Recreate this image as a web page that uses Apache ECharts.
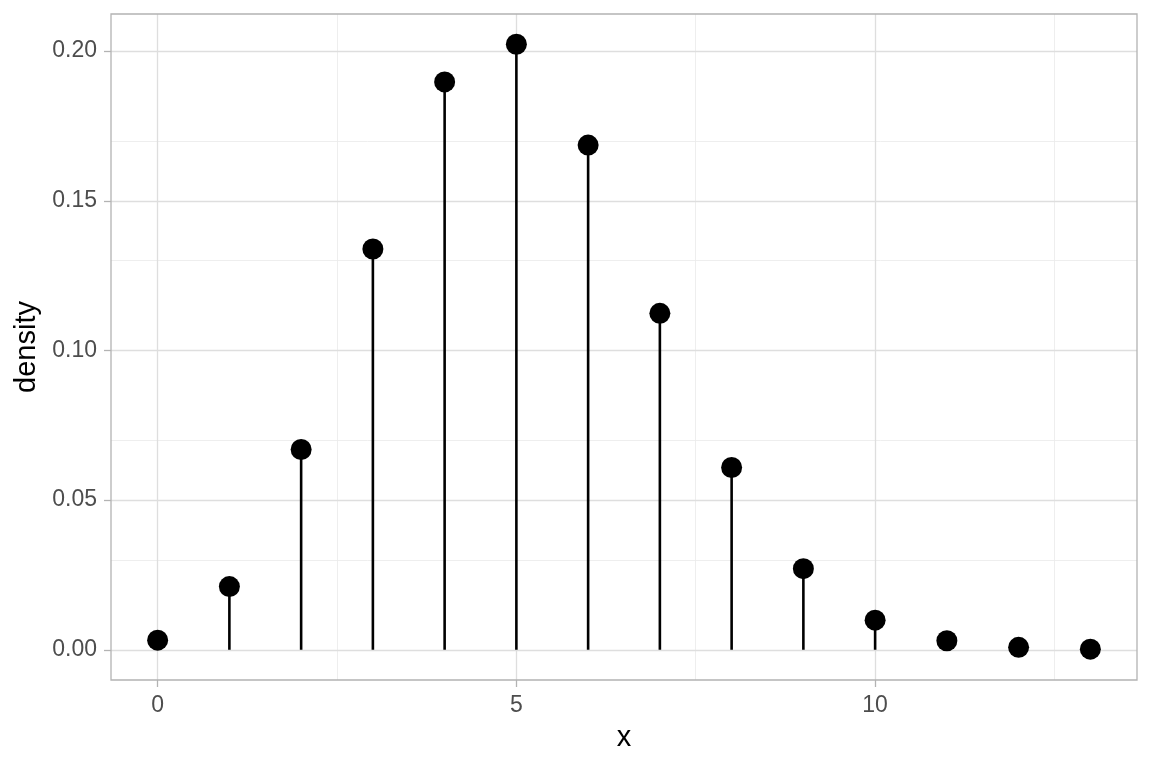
<!DOCTYPE html>
<html>
<head>
<meta charset="utf-8">
<script src="https://cdn.jsdelivr.net/npm/echarts@6/dist/echarts.min.js"></script>
<style>html,body{margin:0;padding:0;background:#fff}#chart{width:1152px;height:768px}</style>
</head>
<body>
<div id="chart"></div>
<script>
const xValues = [0,1,2,3,4,5,6,7,8,9,10,11,12,13];
const density = [0.0032,0.0211,0.0669,0.1339,0.1897,0.2023,0.1686,0.1124,0.0609,0.0271,0.0099,0.0030,0.0008,0.0002];
const xTicks = [0,5,10];
const yTicks = [0,0.05,0.10,0.15,0.20];
const xMinor = [2.5,7.5,12.5];
const yMinor = [0.025,0.075,0.125,0.175];

const font = 'Liberation Sans, Arial, sans-serif';
const pts = xValues.map((x,i)=>[x,density[i]]);

const major = {color:'#DEDEDE',width:1.3,type:'solid'};
const minor = {color:'#EAEAEA',width:0.8,type:'solid'};
const gridLines = [];
xMinor.forEach(v=>gridLines.push({xAxis:v,lineStyle:minor}));
yMinor.forEach(v=>gridLines.push({yAxis:v,lineStyle:minor}));
xTicks.forEach(v=>gridLines.push({xAxis:v,lineStyle:major}));
yTicks.forEach(v=>gridLines.push({yAxis:v,lineStyle:major}));

const chart = echarts.init(document.getElementById('chart'), null, {renderer:'canvas'});
chart.setOption({
  animation:false,
  backgroundColor:'#ffffff',
  grid:{left:111,top:14,width:1026,height:666,show:true,borderColor:'#B3B3B3',borderWidth:1.3,backgroundColor:'transparent',z:10},
  xAxis:{
    type:'value', min:-0.65, max:13.65,
    name:'x', nameLocation:'middle', nameGap:43,
    nameTextStyle:{fontFamily:font,fontSize:29,color:'#000'},
    axisLine:{show:false,onZero:false},
    axisTick:{show:true,length:7,customValues:xTicks,lineStyle:{color:'#B3B3B3',width:1.3}},
    axisLabel:{customValues:xTicks,fontFamily:font,fontSize:23,color:'#4D4D4D',margin:14},
    splitLine:{show:false}
  },
  yAxis:{
    type:'value', min:-0.0101, max:0.2124,
    name:'density', nameLocation:'middle', nameGap:65, nameRotate:90,
    nameTextStyle:{fontFamily:font,fontSize:29,color:'#000'},
    axisLine:{show:false,onZero:false},
    axisTick:{show:true,length:7,customValues:yTicks,lineStyle:{color:'#B3B3B3',width:1.3}},
    axisLabel:{customValues:yTicks,fontFamily:font,fontSize:23,color:'#4D4D4D',margin:14,
      formatter:v=>v.toFixed(2)},
    splitLine:{show:false}
  },
  series:[
    {type:'scatter',data:[],silent:true,z:1,
      markLine:{silent:true,z:1,symbol:'none',label:{show:false},animation:false,data:gridLines}},
    {type:'bar',data:pts,barWidth:2.6,itemStyle:{color:'#000'},z:2,silent:true},
    {type:'scatter',data:pts,symbol:'circle',symbolSize:21,itemStyle:{color:'#000',opacity:1},z:3,silent:true}
  ]
});
</script>
</body>
</html>
